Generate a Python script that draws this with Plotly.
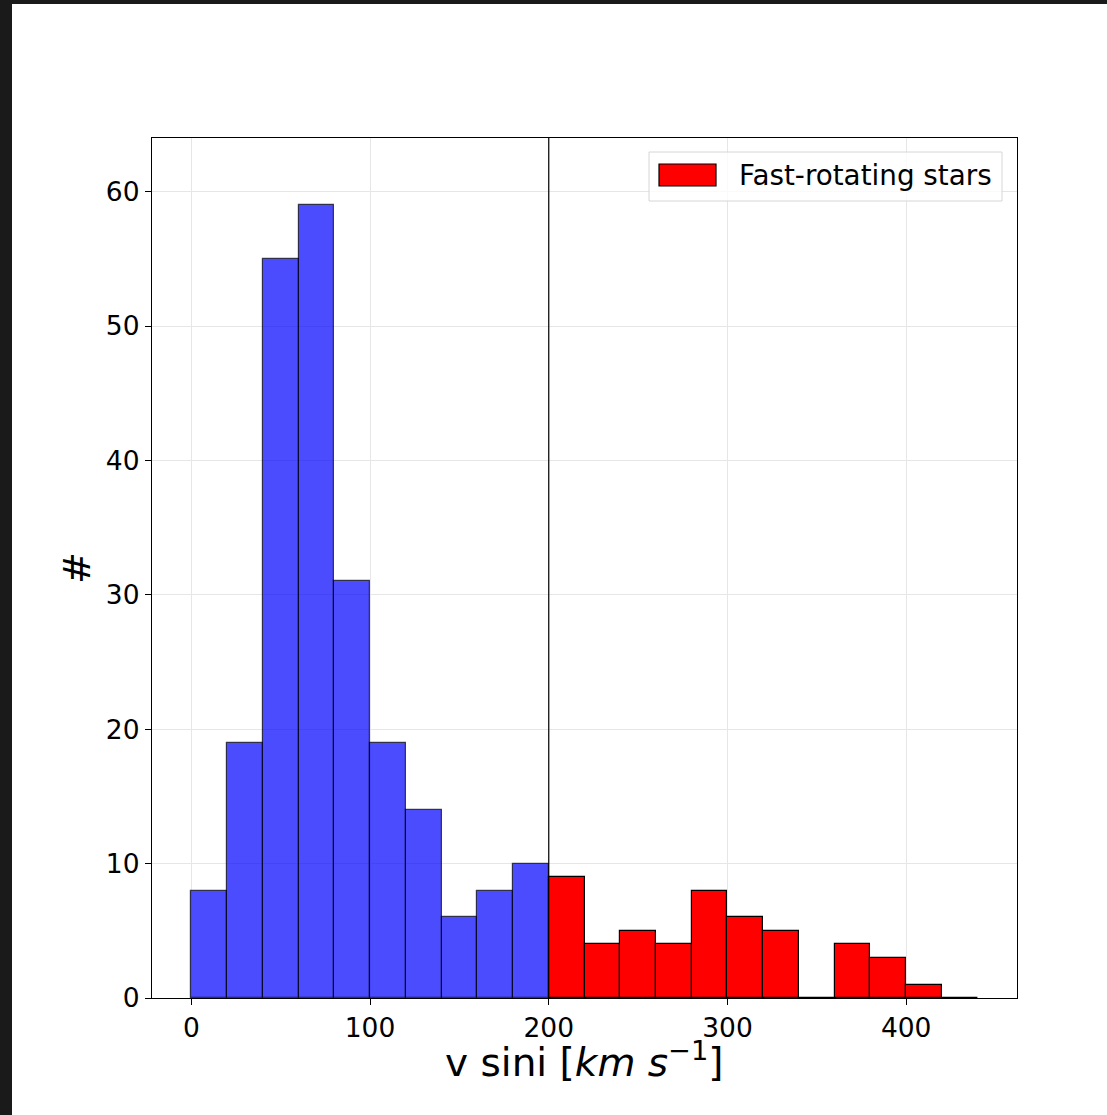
import plotly.graph_objects as go

# Histogram of projected rotational velocities, 20 km/s bins
bin_width = 20
slow_edges = [0, 20, 40, 60, 80, 100, 120, 140, 160, 180]
slow_counts = [8, 19, 55, 59, 31, 19, 14, 6, 8, 10]
fast_edges = [200, 220, 240, 260, 280, 300, 320, 340, 360, 380, 400, 420]
fast_counts = [9, 4, 5, 4, 8, 6, 5, 0, 4, 3, 1, 0]
x_ticks = [0, 100, 200, 300, 400]
y_ticks = [0, 10, 20, 30, 40, 50, 60]
threshold = 200
legend_label = "Fast-rotating stars"
x_label = "v sini [<i>km s</i><sup>−1</sup>]"

W, H = 1107, 1115
L, R, T, B = 152, 90, 138, 117
PW, PH = W - L - R, H - T - B
FONT = "DejaVu Sans"


def px_x(p):
    return (p - L) / PW


def px_y(p):
    return 1 - (p - T) / PH


fig = go.Figure()
fig.add_trace(go.Bar(
    x=[e + bin_width / 2 for e in slow_edges], y=slow_counts, width=bin_width,
    marker=dict(color="rgba(0,0,255,0.7)", line=dict(color="rgba(0,0,0,0.7)", width=1.2)),
    showlegend=False,
))
fig.add_trace(go.Bar(
    x=[e + bin_width / 2 for e in fast_edges], y=fast_counts, width=bin_width,
    marker=dict(color="red", line=dict(color="black", width=1.2)),
    showlegend=False,
))

shapes = [
    # threshold line
    dict(type="line", xref="x", yref="paper", x0=threshold, x1=threshold, y0=0, y1=1,
         line=dict(color="black", width=1.2), layer="above"),
    # legend frame
    dict(type="rect", xref="paper", yref="paper",
         x0=px_x(649), x1=px_x(1002), y0=px_y(201), y1=px_y(152),
         line=dict(color="#d6d6d6", width=1), fillcolor="rgba(255,255,255,0.8)", layer="above"),
    # legend swatch
    dict(type="rect", xref="paper", yref="paper",
         x0=px_x(659), x1=px_x(716), y0=px_y(186), y1=px_y(164),
         line=dict(color="black", width=1.2), fillcolor="red", layer="above"),
    # dark surround at left and top edges
    dict(type="rect", xref="paper", yref="paper",
         x0=px_x(0), x1=px_x(12), y0=px_y(H), y1=px_y(0),
         line=dict(width=0), fillcolor="#1a1a1a", layer="below"),
    dict(type="rect", xref="paper", yref="paper",
         x0=px_x(0), x1=px_x(W), y0=px_y(4), y1=px_y(0),
         line=dict(width=0), fillcolor="#1a1a1a", layer="below"),
]

annotations = [
    dict(text=legend_label, xref="paper", yref="paper", x=px_x(737), y=px_y(175),
         xanchor="left", yanchor="middle", showarrow=False,
         font=dict(family=FONT, size=27.8, color="black")),
    # x-axis title
    dict(text=x_label, xref="paper", yref="paper", x=px_x(584), y=px_y(1060),
         xanchor="center", yanchor="middle", showarrow=False,
         font=dict(family=FONT, size=39, color="black")),
]

fig.update_layout(
    width=W, height=H,
    margin=dict(l=L, r=R, t=T, b=B, pad=0),
    paper_bgcolor="white", plot_bgcolor="white",
    barmode="overlay", bargap=0,
    font=dict(family=FONT, color="black"),
    shapes=shapes, annotations=annotations,
    showlegend=False,
)
fig.update_xaxes(
    range=[-22, 462], tickvals=x_ticks, ticks="outside", ticklen=6, tickcolor="black",
    tickfont=dict(size=26.5), showline=True, linecolor="black", linewidth=1.2, mirror=True,
    showgrid=True, gridcolor="#e6e6e6", gridwidth=1, zeroline=False,
)
fig.update_yaxes(
    range=[0, 64], tickvals=y_ticks, ticks="outside", ticklen=6, tickcolor="black",
    tickfont=dict(size=26.5), showline=True, linecolor="black", linewidth=1.2, mirror=True,
    showgrid=True, gridcolor="#e6e6e6", gridwidth=1, zeroline=False,
    title=dict(text="#", font=dict(size=38), standoff=3),
)

fig.write_html("out.html")
